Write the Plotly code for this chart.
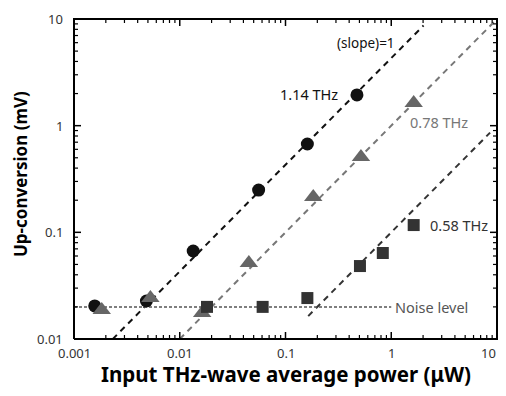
import plotly.graph_objects as go
import numpy as np

# 1.14 THz (circles)
x_114 = [0.00157, 0.00484, 0.0134, 0.0557, 0.161, 0.474]
y_114 = [0.0204, 0.0227, 0.0668, 0.249, 0.673, 1.94]
# 0.78 THz (triangles)
x_078 = [0.00183, 0.00528, 0.0163, 0.045, 0.183, 0.517, 1.63]
y_078 = [0.0187, 0.0242, 0.0175, 0.0515, 0.214, 0.508, 1.63]
# 0.58 THz (squares)
x_058 = [0.0181, 0.0608, 0.161, 0.506, 0.832, 1.63]
y_058 = [0.0200, 0.0200, 0.0242, 0.0483, 0.064, 0.117]

# slope-1 guide lines: y = k * x over [x_start, x_end]
fit_k = [4.3, 1.0, 0.1]
fit_x0 = [0.00232, 0.01, 0.164]
fit_x1 = [2.02, 10.0, 8.6]
fit_colors = ["#111111", "#777777", "#333333"]

noise_level = 0.02
noise_x = [0.001, 1.0]

xticks = [0.001, 0.01, 0.1, 1, 10]
xticklabels = ["0.001", "0.01", "0.1", "1", "10"]
yticks = [0.01, 0.1, 1, 10]
yticklabels = ["0.01", "0.1", "1", "10"]

FONT = "Noto Sans"
XR = [-3, 1]
YR = [-2, 1]

# figure fits inside the window's 8px page margin
W, H = 490, 380
PL, PR, PT, PB = 66, 489, 11, 331   # plot area edges in figure pixels

fig = go.Figure()

# ---------------- data (log axes x / y) ----------------
for k, a, b, c in zip(fit_k, fit_x0, fit_x1, fit_colors):
    fig.add_trace(go.Scatter(x=[a, b], y=[k * a, k * b], mode="lines",
                             line=dict(color=c, width=2, dash="6px,5px"),
                             showlegend=False, hoverinfo="skip"))

fig.add_trace(go.Scatter(x=noise_x, y=[noise_level, noise_level], mode="lines",
                         line=dict(color="#555555", width=1.5, dash="3px,2px"),
                         showlegend=False, hoverinfo="skip"))

fig.add_trace(go.Scatter(x=x_114, y=y_114, mode="markers",
                         marker=dict(symbol="circle", size=13, color="#111111"),
                         showlegend=False))
fig.add_trace(go.Scatter(x=x_078, y=y_078, mode="markers",
                         marker=dict(symbol="triangle-up", size=16, color="#666666"),
                         showlegend=False))
fig.add_trace(go.Scatter(x=x_058, y=y_058, mode="markers",
                         marker=dict(symbol="square", size=12, color="#333333"),
                         showlegend=False))

# ---------------- frame + ticks on a full-figure pixel overlay (x2 / y2) ----------------
def px(v):
    return PL + (np.log10(v) - XR[0]) / (XR[1] - XR[0]) * (PR - PL)

def py(v):
    return PB - (np.log10(v) - YR[0]) / (YR[1] - YR[0]) * (PB - PT)

minor_x = [m * 10.0 ** e for e in range(XR[0], XR[1]) for m in range(2, 10)]
minor_y = [m * 10.0 ** e for e in range(YR[0], YR[1]) for m in range(2, 10)]

def tick_segments(xvals, yvals, ln):
    xs, ys = [], []
    for v in xvals:
        x = px(v)
        xs += [x, x, None, x, x, None]
        ys += [PB, PB - ln, None, PT, PT + ln, None]
    for v in yvals:
        y = py(v)
        xs += [PL, PL + ln, None, PR, PR - ln, None]
        ys += [y, y, None, y, y, None]
    return xs, ys

mx, my = tick_segments(xticks, yticks, 7)
nx, ny = tick_segments(minor_x, minor_y, 4)
fig.add_trace(go.Scatter(x=nx, y=ny, xaxis="x2", yaxis="y2", mode="lines",
                         line=dict(color="black", width=1.2), showlegend=False, hoverinfo="skip"))
fig.add_trace(go.Scatter(x=mx, y=my, xaxis="x2", yaxis="y2", mode="lines",
                         line=dict(color="black", width=1.5), showlegend=False, hoverinfo="skip"))
fig.add_trace(go.Scatter(x=[PL, PR, PR, PL, PL], y=[PB, PB, PT, PT, PB], xaxis="x2", yaxis="y2",
                         mode="lines", line=dict(color="black", width=2),
                         showlegend=False, hoverinfo="skip"))

hidden = dict(showline=False, showticklabels=False, ticks="", showgrid=False, zeroline=False)
fig.update_layout(
    xaxis=dict(type="log", range=XR, domain=[PL / W, PR / W], anchor="y", **hidden),
    yaxis=dict(type="log", range=YR, domain=[(H - PB) / H, (H - PT) / H], anchor="x", **hidden),
    xaxis2=dict(range=[0, W], domain=[0, 1], anchor="y2", visible=False),
    yaxis2=dict(range=[H, 0], domain=[0, 1], anchor="x2", visible=False),
)

# ---------------- tick labels ----------------
tickfont = dict(family=FONT, size=13, color="#333333")
for v, t in zip(xticks, xticklabels):
    x = px(v)
    if v == xticks[-1]:
        fig.add_annotation(text=t, x=W, y=PB + 3, xref="x2", yref="y2", xanchor="right",
                           yanchor="top", showarrow=False, font=tickfont)
    else:
        fig.add_annotation(text=t, x=x, y=PB + 3, xref="x2", yref="y2", xanchor="center",
                           yanchor="top", showarrow=False, font=tickfont)
for v, t in zip(yticks, yticklabels):
    fig.add_annotation(text=t, x=PL - 9, y=py(v), xref="x2", yref="y2", xanchor="right",
                       yanchor="middle", showarrow=False, font=tickfont)

# ---------------- axis titles ----------------
fig.add_annotation(text="<b>Input THz-wave average power (μW)</b>", x=(PL + PR) / 2, y=PB + 35,
                   xref="x2", yref="y2", xanchor="center", yanchor="middle", showarrow=False,
                   font=dict(family=FONT, size=20.5, color="black"))
fig.add_annotation(text="<b>Up-conversion (mV)</b>", x=PL - 54, y=(PT + PB) / 2 - 5,
                   xref="x2", yref="y2", xanchor="center", yanchor="middle", textangle=-90,
                   showarrow=False, font=dict(family=FONT, size=17, color="black"))

# ---------------- in-plot labels (log data coordinates) ----------------
ann = [
    dict(text="(slope)=1", x=-0.239, y=0.775, xanchor="center", color="#111111", size=13.5),
    dict(text="1.14 THz", x=-0.775, y=0.297, xanchor="center", color="#111111", size=14.5),
    dict(text="0.78 THz", x=0.155, y=0.035, xanchor="left", color="#777777", size=14.5),
    dict(text="0.58 THz", x=0.343, y=-0.931, xanchor="left", color="#333333", size=14.5),
    dict(text="Noise level", x=0.02, y=float(np.log10(noise_level)), xanchor="left",
         color="#555555", size=14.5),
]
for a in ann:
    fig.add_annotation(text=a["text"], x=a["x"], y=a["y"], xref="x", yref="y",
                       xanchor=a["xanchor"], yanchor="middle", showarrow=False,
                       font=dict(family=FONT, size=a["size"], color=a["color"]))

fig.update_layout(width=W, height=H, margin=dict(l=0, r=0, t=0, b=0, pad=0, autoexpand=False),
                  plot_bgcolor="rgba(0,0,0,0)", paper_bgcolor="white", showlegend=False,
                  hovermode=False)

fig.write_html("out.html")
